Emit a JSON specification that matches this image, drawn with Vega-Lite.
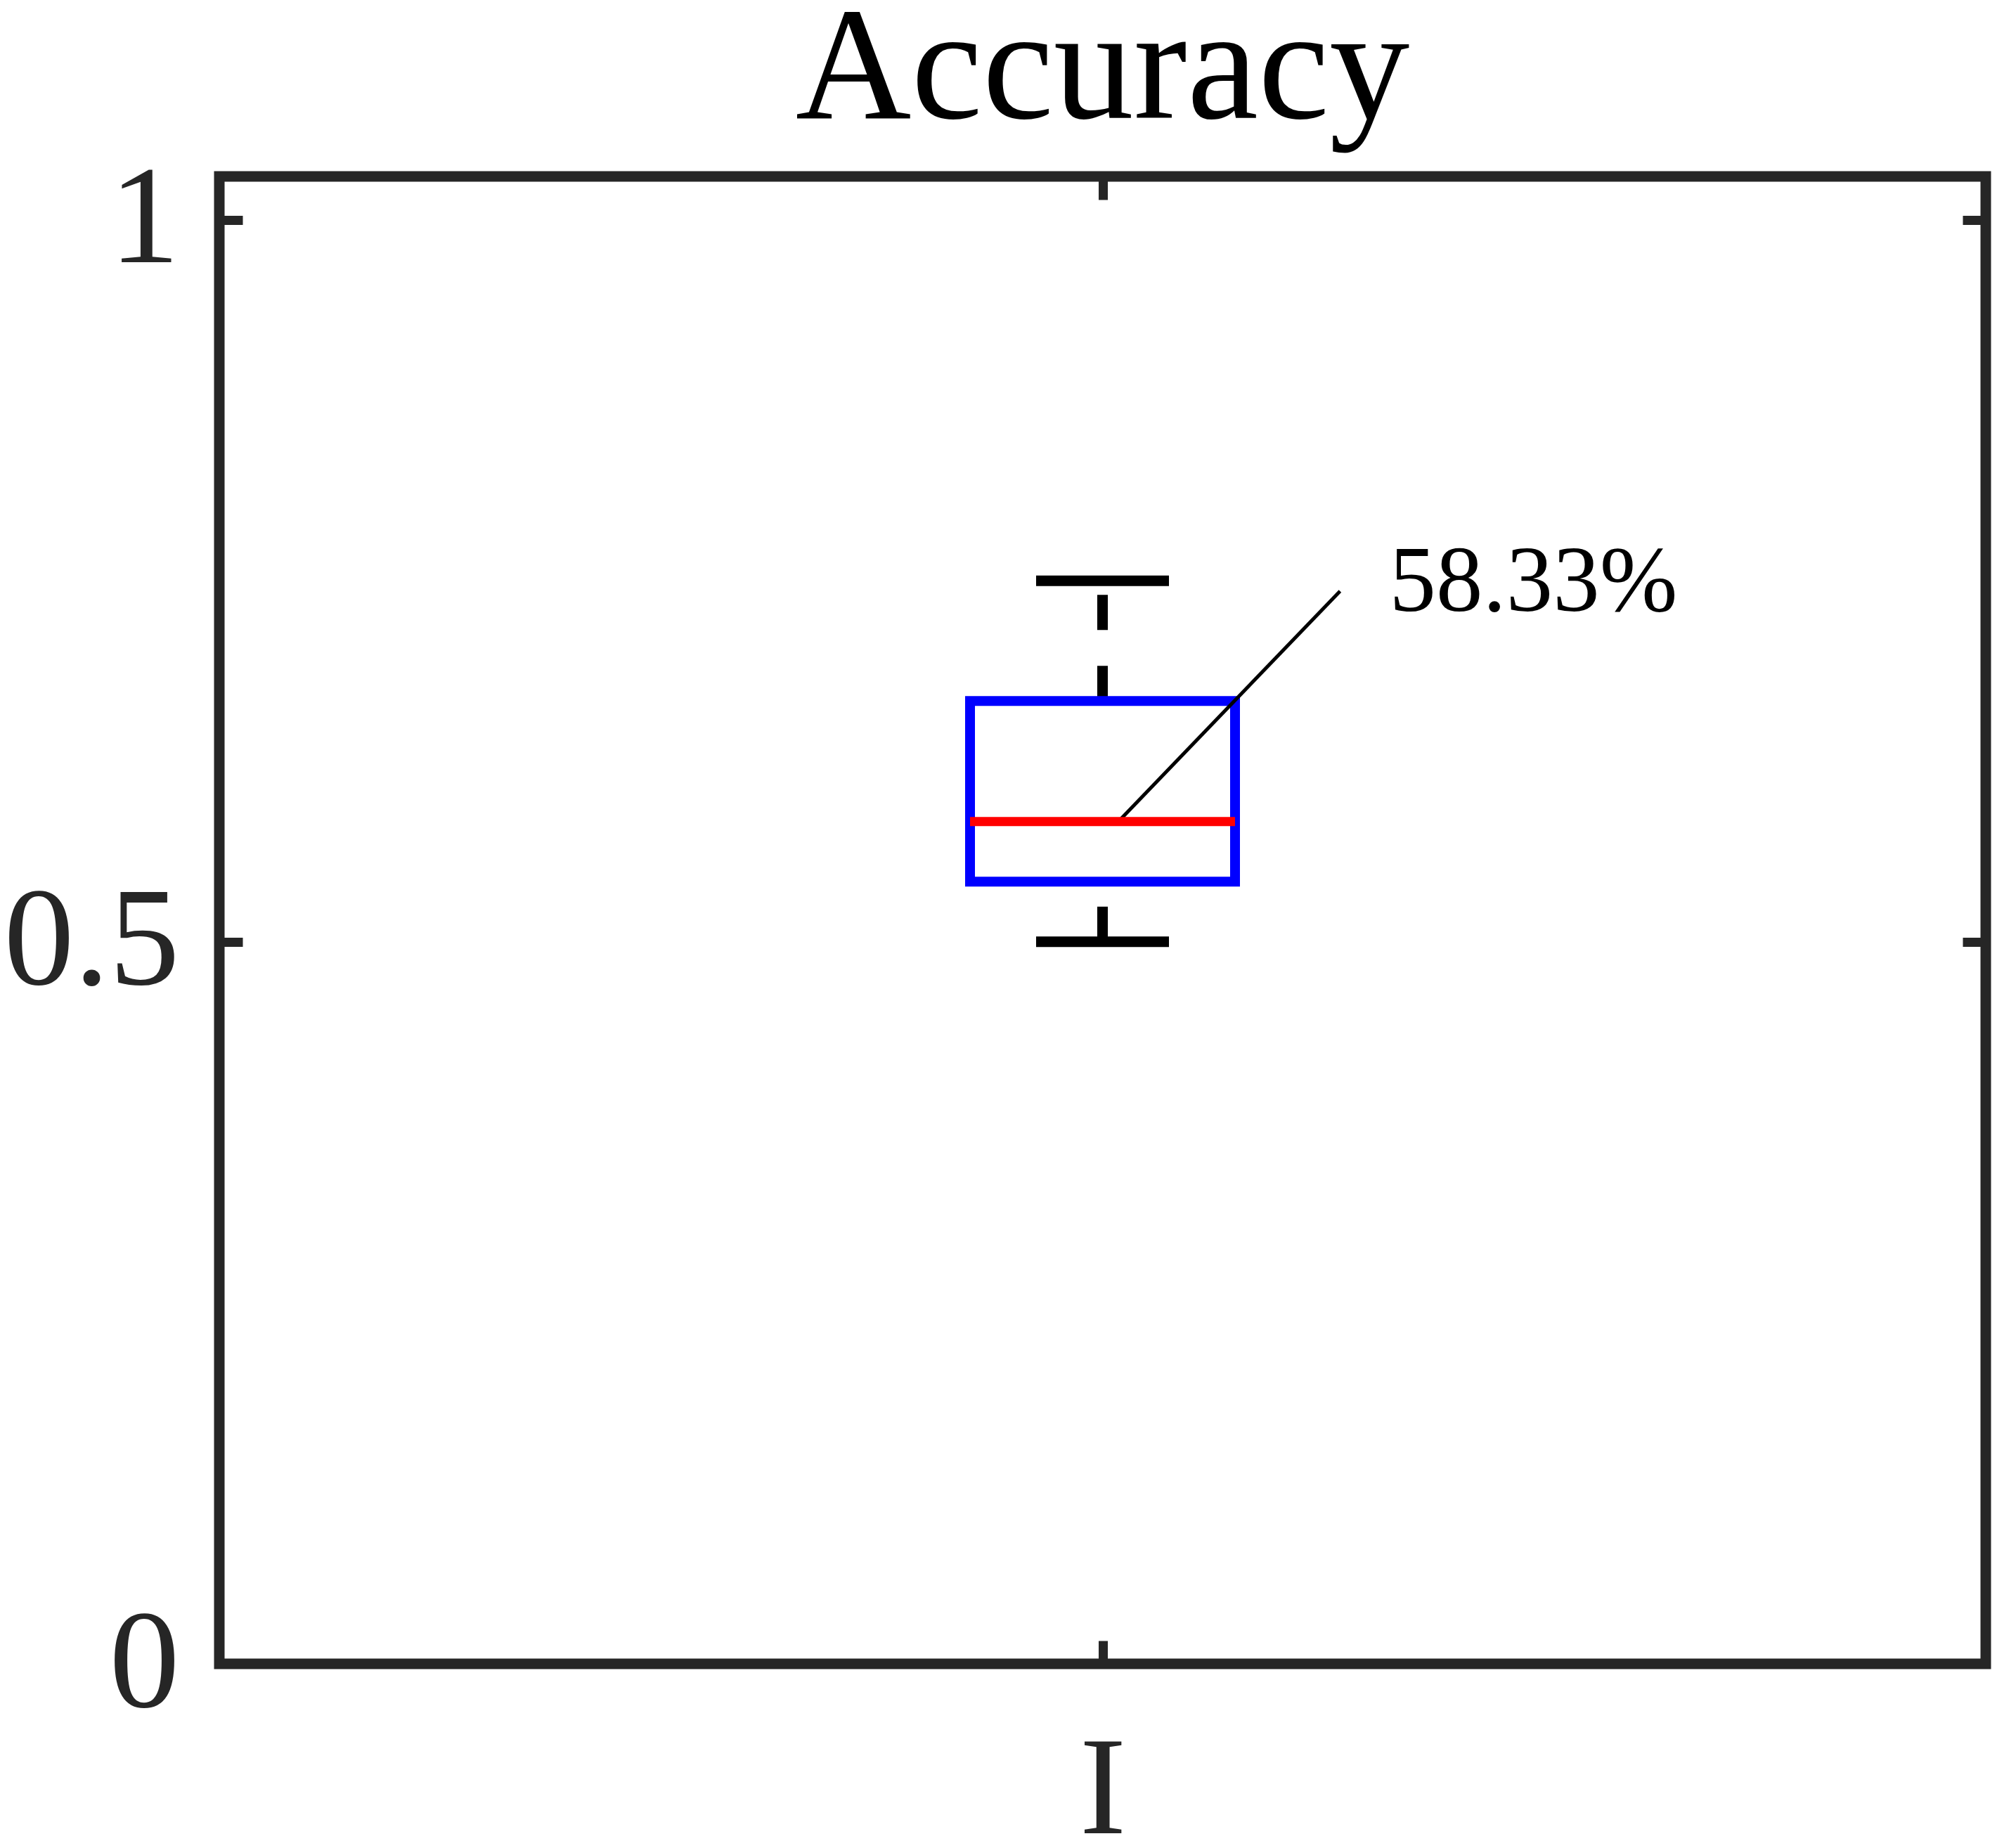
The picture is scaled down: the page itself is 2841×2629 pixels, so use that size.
{
  "$schema": "https://vega.github.io/schema/vega-lite/v6.json",
  "width": 2513,
  "height": 2116,
  "autosize": {"type": "none"},
  "padding": {"left": 312, "top": 251, "right": 16, "bottom": 262},
  "background": "white",
  "title": {"text": "Accuracy", "font": "Liberation Serif", "fontSize": 228, "fontWeight": "normal", "color": "#000000", "offset": -3, "anchor": "middle"},
  "config": {
    "view": {"stroke": "#262626", "strokeWidth": 15},
    "axis": {"grid": false, "domain": false, "labelFont": "Liberation Serif", "labelFontSize": 200, "labelLimit": 0, "labelColor": "#262626", "tickColor": "#262626", "tickWidth": 13, "tickSize": -33}
  },
  "data": {"values": [{"group": "I", "pos": 1, "lower": 0.5, "q1": 0.5417, "median": 0.5833, "q3": 0.6667, "upper": 0.75}]},
  "resolve": {"axis": {"x": "independent", "y": "independent"}},
  "layer": [
    {
      "mark": {"type": "rule", "color": "#000000", "strokeWidth": 15, "strokeDash": [50, 51]},
      "encoding": {
        "x": {"field": "pos", "type": "quantitative", "scale": {"domain": [0.5, 1.5], "nice": false, "zero": false}, "axis": {"orient": "bottom", "values": [1], "labelExpr": "'I'", "labelPadding": 115, "title": null}},
        "y": {"field": "lower", "type": "quantitative", "scale": {"domain": [0, 1.03], "nice": false, "zero": false}, "axis": {"orient": "left", "values": [0, 0.5, 1], "format": "~g", "labelPadding": 90, "title": null}},
        "y2": {"field": "q1"}
      }
    },
    {
      "mark": {"type": "rule", "color": "#000000", "strokeWidth": 15, "strokeDash": [50, 51]},
      "encoding": {
        "x": {"field": "pos", "type": "quantitative", "scale": {"domain": [0.5, 1.5], "nice": false, "zero": false}, "axis": {"orient": "top", "values": [1], "labels": false, "title": null}},
        "y": {"field": "q3", "type": "quantitative", "scale": {"domain": [0, 1.03], "nice": false, "zero": false}, "axis": {"orient": "right", "values": [0, 0.5, 1], "labels": false, "title": null}},
        "y2": {"field": "upper"}
      }
    },
    {
      "mark": {"type": "bar", "size": 377, "fillOpacity": 0, "stroke": "#0000ff", "strokeWidth": 14},
      "encoding": {
        "x": {"field": "pos", "type": "quantitative", "scale": {"domain": [0.5, 1.5], "nice": false, "zero": false}, "axis": null},
        "y": {"field": "q1", "type": "quantitative", "scale": {"domain": [0, 1.03], "nice": false, "zero": false}, "axis": null},
        "y2": {"field": "q3"}
      }
    },
    {
      "mark": {"type": "rule", "color": "#000000", "strokeWidth": 5},
      "encoding": {
        "x": {"datum": 1.009, "type": "quantitative", "scale": {"domain": [0.5, 1.5], "nice": false, "zero": false}, "axis": null},
        "y": {"field": "median", "type": "quantitative", "scale": {"domain": [0, 1.03], "nice": false, "zero": false}, "axis": null},
        "x2": {"datum": 1.135},
        "y2": {"datum": 0.7428}
      }
    },
    {
      "mark": {"type": "tick", "orient": "horizontal", "size": 377, "thickness": 13, "color": "#ff0000", "opacity": 1},
      "encoding": {
        "x": {"field": "pos", "type": "quantitative", "scale": {"domain": [0.5, 1.5], "nice": false, "zero": false}, "axis": null},
        "y": {"field": "median", "type": "quantitative", "scale": {"domain": [0, 1.03], "nice": false, "zero": false}, "axis": null}
      }
    },
    {
      "mark": {"type": "tick", "orient": "horizontal", "size": 189, "thickness": 15, "color": "#000000", "opacity": 1},
      "encoding": {
        "x": {"field": "pos", "type": "quantitative", "scale": {"domain": [0.5, 1.5], "nice": false, "zero": false}, "axis": null},
        "y": {"field": "upper", "type": "quantitative", "scale": {"domain": [0, 1.03], "nice": false, "zero": false}, "axis": null}
      }
    },
    {
      "mark": {"type": "tick", "orient": "horizontal", "size": 189, "thickness": 15, "color": "#000000", "opacity": 1},
      "encoding": {
        "x": {"field": "pos", "type": "quantitative", "scale": {"domain": [0.5, 1.5], "nice": false, "zero": false}, "axis": null},
        "y": {"field": "lower", "type": "quantitative", "scale": {"domain": [0, 1.03], "nice": false, "zero": false}, "axis": null}
      }
    },
    {
      "mark": {"type": "text", "font": "Liberation Serif", "fontSize": 133, "align": "left", "baseline": "alphabetic", "color": "#000000"},
      "encoding": {
        "x": {"datum": 1.163, "type": "quantitative", "scale": {"domain": [0.5, 1.5], "nice": false, "zero": false}, "axis": null},
        "y": {"datum": 0.7292, "type": "quantitative", "scale": {"domain": [0, 1.03], "nice": false, "zero": false}, "axis": null},
        "text": {"field": "median", "type": "quantitative", "format": ".2%"}
      }
    }
  ]
}
